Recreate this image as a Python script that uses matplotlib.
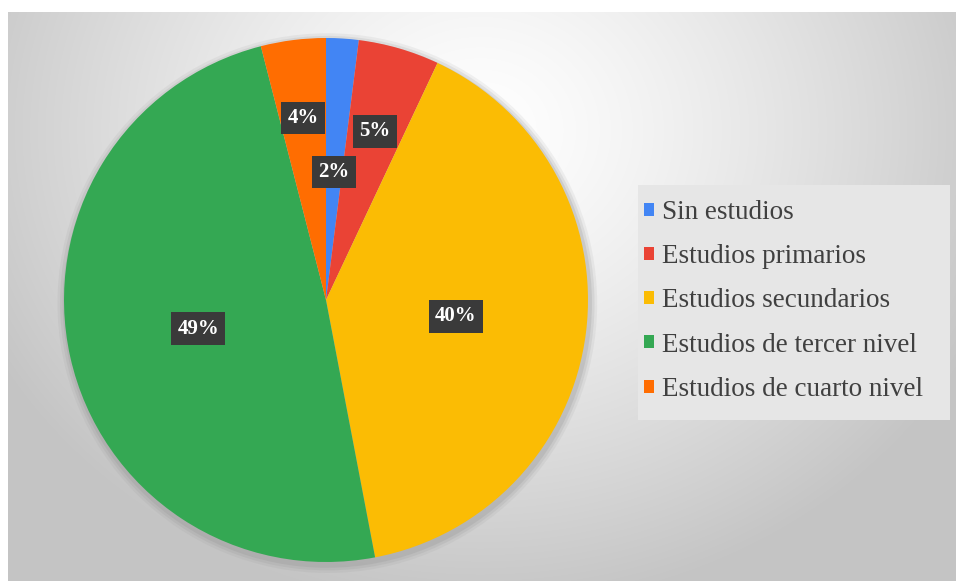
import numpy as np
import matplotlib
matplotlib.use("Agg")
import matplotlib.pyplot as plt
from matplotlib.patches import Patch, Rectangle

# --- Datos ---
categorias = ["Sin estudios", "Estudios primarios", "Estudios secundarios",
              "Estudios de tercer nivel", "Estudios de cuarto nivel"]
porcentajes = [2, 5, 40, 49, 4]
etiquetas = ["2%", "5%", "40%", "49%", "4%"]

colores = ["#4285F4", "#EA4335", "#FBBC04", "#34A853", "#FF6D01"]
dist_etiq = [0.49, 0.67, 0.5, 0.5, 0.7]   # posición radial de cada etiqueta

W, H = 956, 581
fig = plt.figure(figsize=(W / 100, H / 100), dpi=100)
fig.patch.set_facecolor("white")

# --- Fondo con degradado radial ---
bg = fig.add_axes([8 / W, 0, 1 - 8 / W, (H - 12) / H])
yy, xx = np.mgrid[12:H, 8:W]
d = np.sqrt(((xx - 480) / 1.15) ** 2 + (yy - 130) ** 2)
g = 1.0 - 0.23 * np.clip(d / 480, 0, 1) ** 1.3
bg.imshow(np.dstack([g, g, g]), aspect="auto", extent=[8, W, H, 12])
bg.set_axis_off()

# caja de la leyenda
fig.patches.append(Rectangle((638 / W, 1 - 420 / H), 312 / W, 235 / H,
                             transform=fig.transFigure, facecolor="#e6e6e6",
                             edgecolor="none", zorder=1))

# --- Pastel ---
cx, cy, r = 326, 300, 262
ax = fig.add_axes([(cx - r) / W, (H - cy - r) / H, 2 * r / W, 2 * r / H])
ax.set_facecolor("none")
for k, a in [(1.03, 0.10), (1.02, 0.15), (1.01, 0.2)]:
    sombra = plt.Circle((0.005, -0.012), k, color="#8a8a8a", alpha=a,
                        zorder=0, clip_on=False, linewidth=0)
    ax.add_patch(sombra)
wedges, _ = ax.pie(porcentajes, colors=colores, startangle=90, counterclock=False,
                   wedgeprops=dict(linewidth=0))
ax.set_xlim(-1, 1)
ax.set_ylim(-1, 1)
ax.set_aspect("equal")

for w, txt, dd in zip(wedges, etiquetas, dist_etiq):
    ang = np.deg2rad((w.theta1 + w.theta2) / 2)
    ax.text(dd * np.cos(ang), dd * np.sin(ang), txt, ha="center", va="center",
            color="white", fontsize=15, fontweight="bold", family="Liberation Serif",
            bbox=dict(boxstyle="square,pad=0.3", facecolor="#3a3a3a", edgecolor="none"))

# --- Leyenda ---
handles = [Patch(facecolor=c, edgecolor="none") for c in colores]
leg = fig.legend(handles, categorias, loc="upper left",
                 bbox_to_anchor=(644 / W, 1 - 200 / H),
                 prop={"family": "Liberation Serif", "size": 19.5},
                 frameon=False, handlelength=0.36, handleheight=0.36,
                 handletextpad=0.3, labelspacing=0.71, borderpad=0,
                 borderaxespad=0, labelcolor="#404040")

fig.savefig("out.png", dpi=100)
